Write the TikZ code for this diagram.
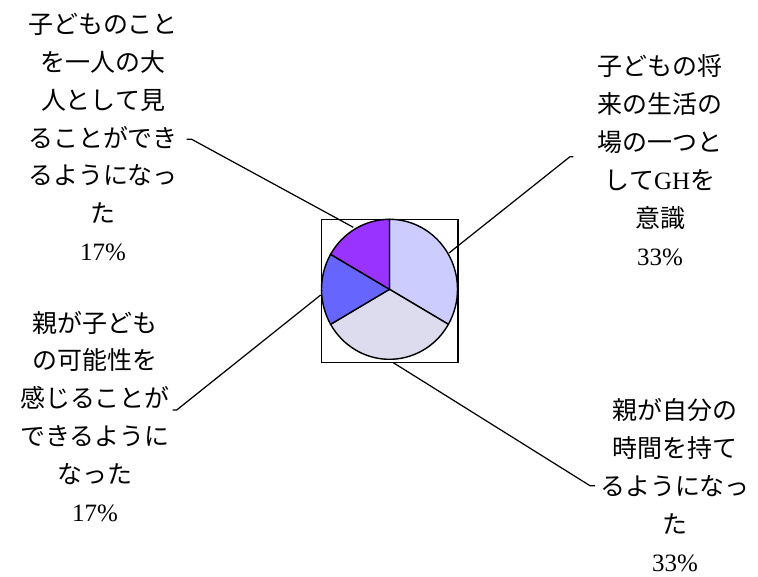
\documentclass[tikz,border=0pt]{standalone}
\usepackage{fontspec}
\setmainfont{Liberation Serif}
\newfontfamily\jpfont{Noto Sans CJK JP}
\usetikzlibrary{calc}
\definecolor{slicelilac}{HTML}{CCCCFF}
\definecolor{slicegrey}{HTML}{DCDCEE}
\definecolor{sliceblue}{HTML}{6666FF}
\definecolor{slicepurple}{HTML}{9933FF}
\newcommand{\latn}[1]{{\rmfamily #1}}
\tikzset{
    lbl/.style={align=center, inner sep=0pt, font=\jpfont\fontsize{14.2}{21.6}\selectfont},
    leader/.style={black, line width=0.7pt},
    slice/.style={draw=black, line width=0.8pt},
}

\begin{document}
\begin{tikzpicture}[x=0.02cm, y=0.02cm]
    \useasboundingbox (0,0) rectangle (758,576);
    % pie with its frame
    \draw[black, line width=0.7pt] (321.5,213.7) rectangle (458,356.7);
    \begin{scope}[shift={(389.5,286.7)}]
        \filldraw[slice, fill=slicelilac] (0,0) -- (90:68 and 70) arc[start angle=90, end angle=-30, x radius=68, y radius=70] -- cycle;
        \filldraw[slice, fill=slicegrey] (0,0) -- (-30:68 and 70) arc[start angle=-30, end angle=-150, x radius=68, y radius=70] -- cycle;
        \filldraw[slice, fill=sliceblue] (0,0) -- (210:68 and 70) arc[start angle=210, end angle=150, x radius=68, y radius=70] -- cycle;
        \filldraw[slice, fill=slicepurple] (0,0) -- (150:68 and 70) arc[start angle=150, end angle=90, x radius=68, y radius=70] -- cycle;
    \end{scope}
    % labels
    \node[lbl] (lblTL) at (103,439) {子どものこと\\を一人の大\\人として見\\ることができ\\るようになっ\\た\\\latn{17\%}};
    \node[lbl] (lblTR) at (660,415.5) {子どもの将\\来の生活の\\場の一つと\\して\latn{GH}を\\意識\\\latn{33\%}};
    \node[lbl] (lblBL) at (95,159.5) {親が子ども\\の可能性を\\感じることが\\できるように\\なった\\\latn{17\%}};
    \node[lbl] (lblBR) at (675,90.5) {親が自分の\\時間を持て\\るようになっ\\た\\\latn{33\%}};
    % leader lines
    \coordinate (tlPie) at (353.3,348.7);
    \coordinate (tlBend) at (191.7,436.7);
    \coordinate (tlTip) at (186.7,436.7);
    \coordinate (trPie) at (449,323);
    \coordinate (trBend) at (570,419.3);
    \coordinate (trTip) at (573.3,419.3);
    \coordinate (blPie) at (320.7,281);
    \coordinate (blBend) at (176.7,166);
    \coordinate (blTip) at (172.7,166);
    \coordinate (brPie) at (393.3,213.3);
    \coordinate (brBend) at (590,90.3);
    \coordinate (brTip) at (595,90.3);
    \draw[leader] (tlPie) -- (tlBend) -- (tlTip);
    \draw[leader] (trPie) -- (trBend) -- (trTip);
    \draw[leader] (blPie) -- (blBend) -- (blTip);
    \draw[leader] (brPie) -- (brBend) -- (brTip);
\end{tikzpicture}
\end{document}
